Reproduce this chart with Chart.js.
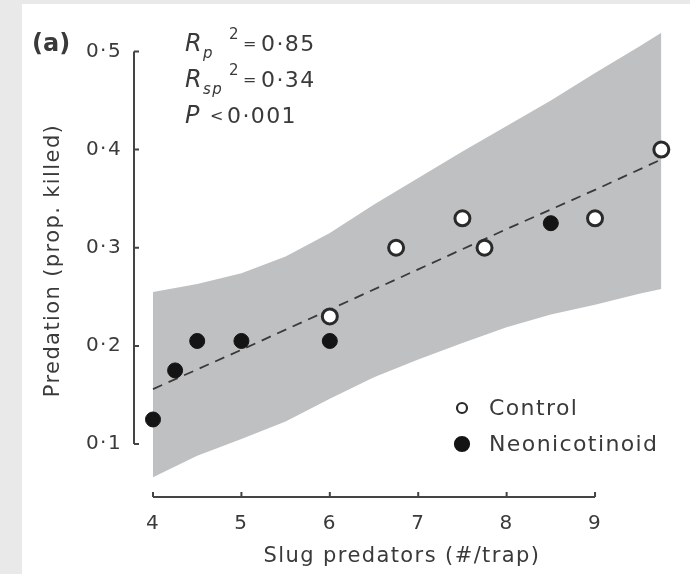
<!DOCTYPE html>
<html>
<head>
<meta charset="utf-8">
<title>Predation vs slug predators</title>
<script src="https://cdn.jsdelivr.net/npm/chart.js@4.4.1/dist/chart.umd.min.js"></script>
<style>
  html, body { margin: 0; padding: 0; background: #e9e9e9; }
  #panel { position: absolute; left: 22px; top: 4px; width: 668px; height: 570px; background: #fff; }
  #wrap { position: absolute; left: 0; top: 0; width: 690px; height: 574px; }
</style>
</head>
<body>
<div id="panel"></div>
<div id="wrap"><canvas id="chart" width="690" height="574"></canvas></div>
<script>
    // tick values
    const xTicks = [4, 5, 6, 7, 8, 9];
    const yTicks = [0.1, 0.2, 0.3, 0.4, 0.5];

    // confidence band
    const bandX = [4, 4.5, 5, 5.5, 6, 6.5, 7, 7.5, 8, 8.5, 9, 9.5, 9.75];
    const bandUpper = [0.255, 0.263, 0.274, 0.291, 0.315, 0.344, 0.371, 0.398, 0.424, 0.450, 0.478, 0.505, 0.519];
    const bandLower = [0.066, 0.088, 0.105, 0.123, 0.146, 0.168, 0.186, 0.203, 0.219, 0.232, 0.242, 0.253, 0.258];

    // fitted line
    const fitX = [4, 5, 6, 7, 8, 9, 9.75];
    const fitY = [0.156, 0.196, 0.237, 0.278, 0.319, 0.359, 0.390];

    // observations
    const controlX = [6, 6.75, 7.5, 7.75, 9, 9.75];
    const controlY = [0.23, 0.30, 0.33, 0.30, 0.33, 0.40];
    const neoX = [4, 4.25, 4.5, 5, 6, 8.5];
    const neoY = [0.125, 0.175, 0.205, 0.205, 0.205, 0.325];

    const seriesNames = ['Control', 'Neonicotinoid'];

    const ink = '#3a3a3a';
    const FONT = "'DejaVu Sans', 'Liberation Sans', sans-serif";
    const SPACING = '1.4px';

    const toPts = (xs, ys) => xs.map((x, i) => ({ x: x, y: ys[i] }));
    const fmt = v => v.toFixed(1).replace('.', '·');

    // axes are drawn detached from the data, like the original figure
    const axesPlugin = {
        id: 'detachedAxes',
        beforeDraw(chart) {
            chart.ctx.letterSpacing = SPACING;
        },
        afterDraw(chart) {
            const ctx = chart.ctx;
            const xs = chart.scales.x, ys = chart.scales.y;
            const ax = chart.chartArea.left, ay = chart.chartArea.bottom;
            ctx.save();
            ctx.strokeStyle = '#444';
            ctx.lineWidth = 2;
            ctx.beginPath();
            ctx.moveTo(ax, ys.getPixelForValue(yTicks[0]));
            ctx.lineTo(ax, ys.getPixelForValue(yTicks[yTicks.length - 1]));
            yTicks.forEach(v => {
                const p = ys.getPixelForValue(v);
                ctx.moveTo(ax, p);
                ctx.lineTo(ax + 5, p);
            });
            ctx.moveTo(xs.getPixelForValue(xTicks[0]), ay);
            ctx.lineTo(xs.getPixelForValue(xTicks[xTicks.length - 1]), ay);
            xTicks.forEach(v => {
                const p = xs.getPixelForValue(v);
                ctx.moveTo(p, ay);
                ctx.lineTo(p, ay - 5);
            });
            ctx.stroke();
            ctx.restore();
        }
    };

    // legend inside the plot, bottom right
    const legendPlugin = {
        id: 'insideLegend',
        afterDraw(chart) {
            const ctx = chart.ctx;
            const rows = [
                { ds: chart.data.datasets[3], y: 408, r: 5 },
                { ds: chart.data.datasets[4], y: 444, r: 7 }
            ];
            ctx.save();
            ctx.letterSpacing = SPACING;
            rows.forEach(row => {
                ctx.beginPath();
                ctx.arc(462, row.y, row.r, 0, Math.PI * 2);
                ctx.fillStyle = row.ds.backgroundColor;
                ctx.fill();
                ctx.lineWidth = 2.2;
                ctx.strokeStyle = row.ds.borderColor;
                ctx.stroke();
                ctx.fillStyle = ink;
                ctx.font = '22px ' + FONT;
                ctx.textBaseline = 'middle';
                ctx.fillText(row.ds.label, 489, row.y + 1);
            });
            ctx.restore();
        }
    };

    // panel letter and statistics; each piece sits at its own x like the figure
    const statsPlugin = {
        id: 'stats',
        afterDraw(chart) {
            const ctx = chart.ctx;
            ctx.save();
            ctx.fillStyle = ink;
            ctx.textBaseline = 'alphabetic';
            ctx.letterSpacing = '0px';
            ctx.font = 'bold 24px ' + FONT;
            ctx.fillText('(a)', 32, 51);

            const lines = [
                { y: 51, parts: [['R', 185, 0, 'oblique 24px '], ['p', 203, 7, 'oblique 15px '], ['2', 229, -12, '15px '], ['=', 243, -2, '16px '], ['0·85', 261, 0, '22px ']] },
                { y: 87, parts: [['R', 185, 0, 'oblique 24px '], ['sp', 203, 7, 'oblique 15px '], ['2', 229, -12, '15px '], ['=', 243, -2, '16px '], ['0·34', 261, 0, '22px ']] },
                { y: 123, parts: [['P', 185, 0, 'oblique 24px '], ['<', 210, -2, '16px '], ['0·001', 227, 0, '22px ']] }
            ];
            ctx.letterSpacing = SPACING;
            lines.forEach(line => {
                line.parts.forEach(([t, x, dy, f]) => {
                    ctx.font = f + FONT;
                    ctx.fillText(t, x, line.y + dy);
                });
            });
            ctx.restore();
        }
    };

    const ctx = document.getElementById('chart').getContext('2d');
    new Chart(ctx, {
        type: 'scatter',
        data: {
            datasets: [
                {
                    label: 'upper',
                    data: toPts(bandX, bandUpper),
                    showLine: true,
                    borderWidth: 0,
                    pointRadius: 0,
                    fill: false,
                    order: 3
                },
                {
                    label: 'lower',
                    data: toPts(bandX, bandLower),
                    showLine: true,
                    borderWidth: 0,
                    pointRadius: 0,
                    backgroundColor: '#bfc0c2',
                    fill: '-1',
                    order: 3
                },
                {
                    label: 'fit',
                    data: toPts(fitX, fitY),
                    showLine: true,
                    borderColor: '#3a3a3a',
                    borderWidth: 1.8,
                    borderDash: [10, 7],
                    pointRadius: 0,
                    fill: false,
                    order: 2
                },
                {
                    label: seriesNames[0],
                    data: toPts(controlX, controlY),
                    pointRadius: 7.5,
                    borderWidth: 3,
                    backgroundColor: '#ffffff',
                    borderColor: '#2a2a2a',
                    clip: false,
                    order: 1
                },
                {
                    label: seriesNames[1],
                    data: toPts(neoX, neoY),
                    pointRadius: 7.5,
                    borderWidth: 1,
                    backgroundColor: '#141414',
                    borderColor: '#141414',
                    clip: false,
                    order: 1
                }
            ]
        },
        options: {
            responsive: false,
            animation: false,
            devicePixelRatio: 1,
            layout: { padding: { left: 0, right: 20, top: 15, bottom: 0 } },
            plugins: {
                legend: { display: false },
                tooltip: { enabled: false }
            },
            scales: {
                x: {
                    type: 'linear',
                    min: 3.785,
                    max: 9.848,
                    border: { display: false },
                    grid: { display: false, drawTicks: false },
                    afterBuildTicks: s => { s.ticks = xTicks.map(v => ({ value: v })); },
                    afterFit: s => { s.height = 77; },
                    ticks: {
                        color: ink,
                        font: { family: FONT, size: 20 },
                        padding: 15,
                        autoSkip: false,
                        maxRotation: 0,
                        callback: v => String(v)
                    },
                    title: {
                        display: true,
                        text: 'Slug predators (#/trap)',
                        color: ink,
                        font: { family: FONT, size: 21 },
                        padding: 5
                    }
                },
                y: {
                    type: 'linear',
                    min: 0.046,
                    max: 0.528,
                    border: { display: false },
                    grid: { display: false, drawTicks: false },
                    afterBuildTicks: s => { s.ticks = yTicks.map(v => ({ value: v })); },
                    afterFit: s => { s.width = 134; },
                    ticks: {
                        color: ink,
                        font: { family: FONT, size: 20 },
                        padding: 12,
                        autoSkip: false,
                        callback: v => fmt(v)
                    },
                    title: {
                        display: true,
                        text: 'Predation (prop. killed)',
                        color: ink,
                        font: { family: FONT, size: 21 },
                        padding: 41
                    }
                }
            }
        },
        plugins: [axesPlugin, legendPlugin, statsPlugin]
    });
</script>
</body>
</html>
